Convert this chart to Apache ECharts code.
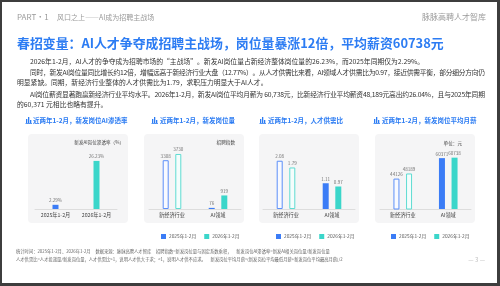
<!DOCTYPE html>
<html lang="zh">
  <head>
    <meta charset="UTF-8" />
    <title>春招变量</title>
    <script src="https://cdn.jsdelivr.net/npm/echarts@6/dist/echarts.min.js"></script>
    <style>
      html, body { margin: 0; padding: 0; background: #3d3d3d; }
      #main { width: 500px; height: 286px; }
    </style>
  </head>
  <body>
    <div id="main"></div>
    <script>
      // 数据
      const rateCats = ["2025年1-2月", "2026年1-2月"];
      const aiRate = [2.29, 26.23];
      const fieldCats = ["新经济行业", "AI领域"];
      const jobs2025 = [3308, 76];
      const jobs2026 = [3730, 919];
      const ratio2025 = [2.08, 1.11];
      const ratio2026 = [1.79, 0.97];
      const salary2025 = [44126, 60371];
      const salary2026 = [48189, 60738];
      const yearNames = ["2025年1-2月", "2026年1-2月"];

      const FONT = '"Noto Sans CJK SC", "Noto Sans", sans-serif';
      const BLUE = "#3b7cf6";
      const TEAL = "#3bd6ca";
      const TITLE_BLUE = "#2c7cf3";
      const BODY_SIZE = 6.8;

      const txt = (text, x, y, size, fill, extra = {}) => ({
        type: "text",
        x,
        y,
        silent: true,
        style: Object.assign(
          { text, fontSize: size, fontFamily: FONT, fill, verticalAlign: "middle" },
          extra
        ),
      });

      // 两端对齐的一行正文：逐字排开
      const measureCtx = document.createElement("canvas").getContext("2d");
      const justified = (text, x, y, width, size, fill) => {
        measureCtx.font = `${size}px ${FONT}`;
        const chars = Array.from(text);
        const widths = chars.map((c) => measureCtx.measureText(c).width);
        const total = widths.reduce((a, b) => a + b, 0);
        const extra = (width - total) / (chars.length - 1);
        let cx = x;
        return {
          type: "group",
          children: chars.map((c, i) => {
            const el = txt(c, cx, y, size, fill);
            cx += widths[i] + extra;
            return el;
          }),
        };
      };

      // 小柱状图图标
      const icon = (x, y) => ({
        type: "group",
        x,
        y,
        children: [
          { type: "rect", shape: { x: 0, y: 2, width: 1.3, height: 4 }, style: { fill: TITLE_BLUE } },
          { type: "rect", shape: { x: 2, y: 0, width: 1.3, height: 6 }, style: { fill: TITLE_BLUE } },
          { type: "rect", shape: { x: 4, y: 3, width: 1.3, height: 3 }, style: { fill: TITLE_BLUE } },
          { type: "rect", shape: { x: -0.5, y: 6, width: 6.5, height: 0.8 }, style: { fill: TITLE_BLUE } },
        ],
      });

      const panel = (x) => ({
        type: "rect",
        z: -1,
        shape: { x, y: 134, width: 100, height: 89, r: 4 },
        style: { fill: "#f5f5f6" },
      });

      const graphic = [
        { type: "rect", z: -2, shape: { x: 2, y: 2, width: 495, height: 281 }, style: { fill: "#ffffff" } },
        txt("PART·1", 17, 17, 8, "#9a9a9a"),
        txt("风口之上——AI成为招聘主战场", 57, 17, 7, "#9a9a9a"),
        txt("脉脉高聘人才智库", 486, 17, 8, "#9a9a9a", { align: "right" }),
        txt("春招变量：AI人才争夺成招聘主战场，岗位量暴涨12倍，平均薪资60738元", 17, 43, 12.9, TITLE_BLUE, { fontWeight: "bold" }),
        txt("2026年1-2月，AI人才的争夺成为招聘市场的“主战场”。新发AI岗位量占新经济整体岗位量的26.23%，而2025年同期仅为2.29%。", 30, 61, BODY_SIZE, "#333"),
        justified("同时，新发AI岗位量同比增长约12倍，增幅远高于新经济行业大盘（12.77%）。从人才供需比来看，AI领域人才供需比为0.97，接近供需平衡，部分细分方向仍", 30, 72, 455, BODY_SIZE, "#333"),
        txt("明显紧缺。同期，新经济行业整体的人才供需比为1.79，求职压力明显大于AI人才。", 17, 82, BODY_SIZE, "#333"),
        justified("AI岗位薪资显著跑赢新经济行业平均水平。2026年1-2月，新发AI岗位平均月薪为 60,738元，比新经济行业平均薪资48,189元高出约26.04%，且与2025年同期", 30, 94, 455, BODY_SIZE, "#333"),
        txt("的60,371 元相比也略有提升。", 17, 104, BODY_SIZE, "#333"),
        panel(28),
        panel(144),
        panel(259),
        panel(375),
        icon(26, 117),
        txt("近两年1-2月，新发岗位AI渗透率", 33, 121, 6.5, TITLE_BLUE, { fontWeight: "bold" }),
        icon(152, 117),
        txt("近两年1-2月，新发岗位量", 160, 121, 6.5, TITLE_BLUE, { fontWeight: "bold" }),
        icon(260, 117),
        txt("近两年1-2月，人才供需比", 268, 121, 6.5, TITLE_BLUE, { fontWeight: "bold" }),
        icon(374, 117),
        txt("近两年1-2月，新发岗位平均月薪", 382, 121, 6.5, TITLE_BLUE, { fontWeight: "bold" }),
        txt("新发AI岗位渗透率（%）", 124, 142, 4.6, "#444", { align: "right" }),
        txt("招聘指数", 235, 142, 4.6, "#444", { align: "right" }),
        txt("单位：元", 462, 143, 4.6, "#444", { align: "right" }),
        txt("统计时间：2025年1-2月、2026年1-2月     数据来源：脉脉高聘人才智库     招聘指数=新发岗位量与固定系数乘积，     新发岗位AI渗透率=新发AI相关岗位量/新发岗位量", 16, 251, 4.3, "#666"),
        txt("人才供需比=人才投递量/新发岗位量，人才供需比>1，说明人才供大于求；<1，说明人才供不应求。     新发岗位平均月薪=(新发岗位平均最低月薪+新发岗位平均最高月薪)/2", 16, 259, 4.3, "#666"),
        txt("— 3 —", 485, 260, 6, "#bbbbbb", { align: "right" }),
      ];

      const grids = [
        { left: 35, width: 82, top: 154, bottom: 77 },
        { left: 149, width: 92, top: 150, bottom: 77 },
        { left: 263, width: 92, top: 151, bottom: 77 },
        { left: 380, width: 91, top: 146, bottom: 77 },
      ];

      const xAxis = grids.map((g, i) => ({
        type: "category",
        gridIndex: i,
        data: i === 0 ? rateCats : fieldCats,
        axisLine: { lineStyle: { color: "#dddddd" } },
        axisTick: { show: false },
        axisLabel: { interval: 0, fontSize: 5.2, color: "#444", margin: 3, fontFamily: FONT },
      }));

      const yMax = [30, 4000, 2.5, 70000];
      const yAxis = grids.map((g, i) => ({
        type: "value",
        gridIndex: i,
        show: false,
        min: i === 3 ? 20000 : 0,
        max: yMax[i],
        splitLine: { show: false },
      }));

      const barLabel = (fmt) => ({
        show: true,
        position: "top",
        distance: 2,
        fontSize: 4.6,
        color: "#777",
        fontFamily: FONT,
        formatter: fmt,
      });

      // 新经济行业用描边柱，AI领域用实心柱
      const outlined = (vals, color, fill) =>
        vals.map((v, i) =>
          i === 0
            ? { value: v, itemStyle: { color: fill, borderColor: color, borderWidth: 1 } }
            : v
        );

      const pair = (idx, a, b) => [
        {
          name: yearNames[0],
          type: "bar",
          xAxisIndex: idx,
          yAxisIndex: idx,
          barWidth: 6,
          barGap: "110%",
          itemStyle: { color: BLUE },
          label: barLabel("{c}"),
          data: outlined(a, "#5b8ff8", "#f8faff"),
        },
        {
          name: yearNames[1],
          type: "bar",
          xAxisIndex: idx,
          yAxisIndex: idx,
          barWidth: 6,
          barGap: "110%",
          itemStyle: { color: TEAL },
          label: barLabel("{c}"),
          data: outlined(b, "#5fdcd2", "#f4fdfc"),
        },
      ];

      const series = [
        {
          name: "新发AI岗位渗透率",
          type: "bar",
          xAxisIndex: 0,
          yAxisIndex: 0,
          barWidth: 6,
          label: barLabel("{c}%"),
          data: aiRate.map((v, i) => ({ value: v, itemStyle: { color: i === 0 ? BLUE : TEAL } })),
        },
        ...pair(1, jobs2025, jobs2026),
        ...pair(2, ratio2025, ratio2026),
        ...pair(3, salary2025, salary2026),
      ];

      const legendAt = (left) => ({
        data: yearNames,
        left,
        top: 229,
        icon: "rect",
        itemWidth: 5,
        itemHeight: 5,
        itemGap: 8,
        selectedMode: false,
        textStyle: { fontSize: 4.8, color: "#555", fontFamily: FONT, padding: [0, 0, 0, -2] },
      });

      const chart = echarts.init(document.getElementById("main"), null, { renderer: "canvas" });
      chart.setOption({
        animation: false,
        backgroundColor: "#3d3d3d",
        textStyle: { fontFamily: FONT },
        graphic,
        grid: grids,
        xAxis,
        yAxis,
        legend: [legendAt(156), legendAt(271), legendAt(386)],
        series,
      });
    </script>
  </body>
</html>
